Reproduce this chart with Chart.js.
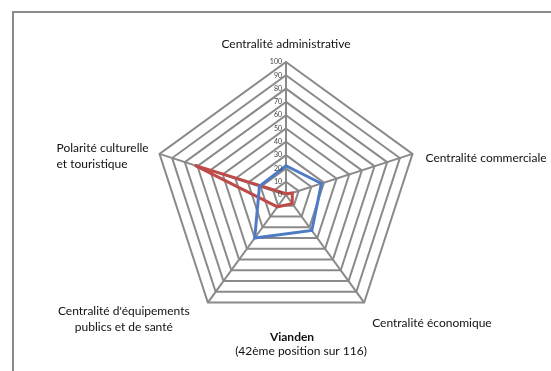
<!DOCTYPE html>
<html>
<head>
<meta charset="utf-8">
<script src="https://cdn.jsdelivr.net/npm/chart.js@4/dist/chart.umd.min.js"></script>
<style>
  body { margin: 0; background: #fff; }
  #wrap { width: 551px; height: 371px; }
</style>
</head>
<body>
<div id="wrap"><canvas id="myChart" width="551" height="371"></canvas></div>
<script>
var categories = [
    ["Centralité administrative"],
    ["Centralité commerciale"],
    ["Centralité économique"],
    ["Centralité d'équipements", "publics et de santé"],
    ["Polarité culturelle", "et touristique"]
];
var blueValues = [22, 28, 33, 40, 21];
var redValues = [1, 5, 8, 11, 72];
var tickLabels = [0, 10, 20, 30, 40, 50, 60, 70, 80, 90, 100];
var titleLines = ["Vianden", "(42ème position sur 116)"];

var FONT = "Lato, 'Open Sans', sans-serif";

// frame + labels drawn around the radar
var decor = {
    id: 'decor',
    beforeDraw: function(chart) {
        var c = chart.ctx;
        c.save();
        c.fillStyle = '#ffffff';
        c.fillRect(0, 0, chart.width, chart.height);
        c.strokeStyle = '#8a8a8a';
        c.lineWidth = 2;
        c.strokeRect(13, 12, 600, 400);
        c.restore();
    },
    afterDraw: function(chart) {
        var c = chart.ctx;
        var s = chart.scales.r;
        c.save();

        // tick labels on the vertical axis
        c.font = "7px " + FONT;
        c.fillStyle = '#404040';
        c.textAlign = 'right';
        c.textBaseline = 'middle';
        tickLabels.forEach(function(t) {
            var p = s.getPointPositionForValue(0, t);
            c.fillText(String(t), p.x - 4, p.y);
        });

        // category labels
        c.font = "12px " + FONT;
        c.fillStyle = '#111';
        var off = [
            { dx: 0, dy: -18, align: 'center' },
            { dx: 13, dy: 4, align: 'left' },
            { dx: 8, dy: 21, align: 'left' },
            { dx: -84, dy: 9, align: 'center' },
            { dx: -103, dy: -6, align: 'left' }
        ];
        categories.forEach(function(lines, i) {
            var v = s.getPointPositionForValue(i, 100);
            c.textAlign = off[i].align;
            lines.forEach(function(txt, j) {
                c.fillText(txt, v.x + off[i].dx, v.y + off[i].dy + j * 16);
            });
        });

        // title below
        c.textAlign = 'center';
        c.font = "bold 12px " + FONT;
        c.fillText(titleLines[0], 292, 337);
        c.font = "12px " + FONT;
        c.fillText(titleLines[1], 301, 351);
        c.restore();
    }
};

var ctx = document.getElementById('myChart');

var chartdata = {
    labels: categories,
    datasets: [{
        label: 'Série 1',
        data: blueValues,
        borderColor: '#4F7BC4',
        borderWidth: 3,
        fill: false,
        pointRadius: 0,
        tension: 0
    }, {
        label: 'Série 2',
        data: redValues,
        borderColor: '#BE4B48',
        borderWidth: 3,
        fill: false,
        pointRadius: 0,
        tension: 0
    }]
};

var radar = new Chart(ctx, {
    type: 'radar',
    data: chartdata,
    plugins: [decor],
    options: {
        responsive: false,
        animation: false,
        devicePixelRatio: 1,
        layout: {
            padding: { left: 153, right: 132, top: 62, bottom: 43 }
        },
        scales: {
            r: {
                min: 0,
                max: 100,
                ticks: { stepSize: 10, display: false },
                grid: { color: '#8a8a8a', lineWidth: 2 },
                angleLines: { display: true, color: '#8a8a8a', lineWidth: 2 },
                pointLabels: { display: false }
            }
        },
        plugins: {
            legend: { display: false },
            tooltip: { enabled: false }
        }
    }
});
</script>
</body>
</html>
